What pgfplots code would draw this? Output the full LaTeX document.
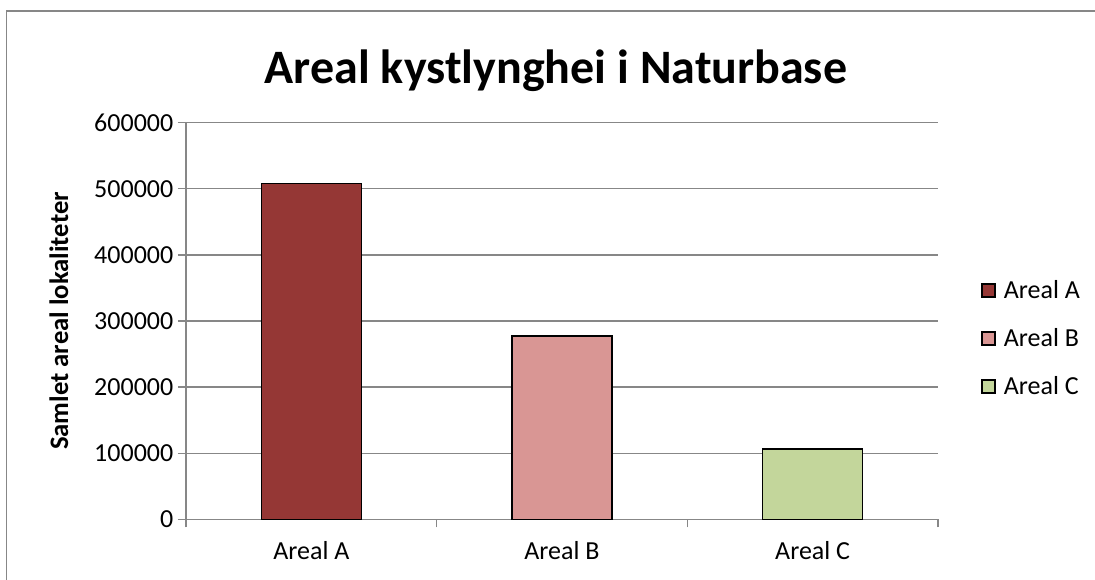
\documentclass[border=0pt]{standalone}
\usepackage{fontspec}
\setmainfont{Carlito}
\usepackage{pgfplots}
\pgfplotsset{compat=1.18}
\definecolor{barA}{HTML}{953735}
\definecolor{barB}{HTML}{D99694}
\definecolor{barC}{HTML}{C3D69B}
\definecolor{gridgray}{HTML}{878787}
\begin{document}
\begin{tikzpicture}[x=1pt,y=1pt]
\useasboundingbox (0,0) rectangle (821.25,435);
\draw[gridgray, line width=1.3pt] (4.9,-5) -- (4.9,426.75) -- (830,426.75);
\begin{axis}[
  at={(139.5pt,45.5pt)}, anchor=south west,
  scale only axis, width=564pt, height=297.5pt,
  xmin=-0.5, xmax=2.5, ymin=0, ymax=600000,
  axis lines*=left,
  axis line style={gridgray, line width=1pt},
  ytick={0,100000,200000,300000,400000,500000,600000},
  yticklabels={0,100000,200000,300000,400000,500000,600000},
  scaled y ticks=false,
  xtick={-0.5,0.5,1.5,2.5}, xticklabels={},
  extra x ticks={0,1,2},
  extra x tick labels={Areal A,Areal B,Areal C},
  extra x tick style={major tick length=0pt, tick style={draw=none},
    xticklabel style={yshift=-13pt}},
  tick align=outside, major tick length=6pt,
  tick style={gridgray, line width=1pt},
  ymajorgrids, grid style={gridgray, line width=1pt},
  ticklabel style={font=\fontsize{19.5}{23}\selectfont},
  /pgf/number format/assume math mode=true,
  title={Areal kystlynghei i Naturbase},
  title style={at={(0.492,1.0775)}, anchor=base, font=\fontsize{36}{43}\selectfont\bfseries},
  ylabel={Samlet areal lokaliteter},
  ylabel style={at={(-0.1569,0.5)}, anchor=base, font=\fontsize{20}{24}\selectfont\bfseries},
  legend style={at={(1.0572,0.456)}, anchor=west, draw=none, fill=none, inner sep=0pt,
    font=\fontsize{19.5}{23}\selectfont, row sep=17pt,
    /tikz/every odd column/.append style={column sep=4pt}},
  legend cell align=left,
  legend image code/.code={\draw[#1, line width=1.2pt] (0pt,-4.875pt) rectangle (9.75pt,4.875pt);},
]
\addplot[ybar, bar width=75pt, bar shift=0pt, fill=barA, draw=black, line width=1.2pt] coordinates {(0,508000)};
\addlegendentry{Areal A}
\addplot[ybar, bar width=75pt, bar shift=0pt, fill=barB, draw=black, line width=1.2pt] coordinates {(1,277500)};
\addlegendentry{Areal B}
\addplot[ybar, bar width=75pt, bar shift=0pt, fill=barC, draw=black, line width=1.2pt] coordinates {(2,106000)};
\addlegendentry{Areal C}
\end{axis}
\end{tikzpicture}
\end{document}
